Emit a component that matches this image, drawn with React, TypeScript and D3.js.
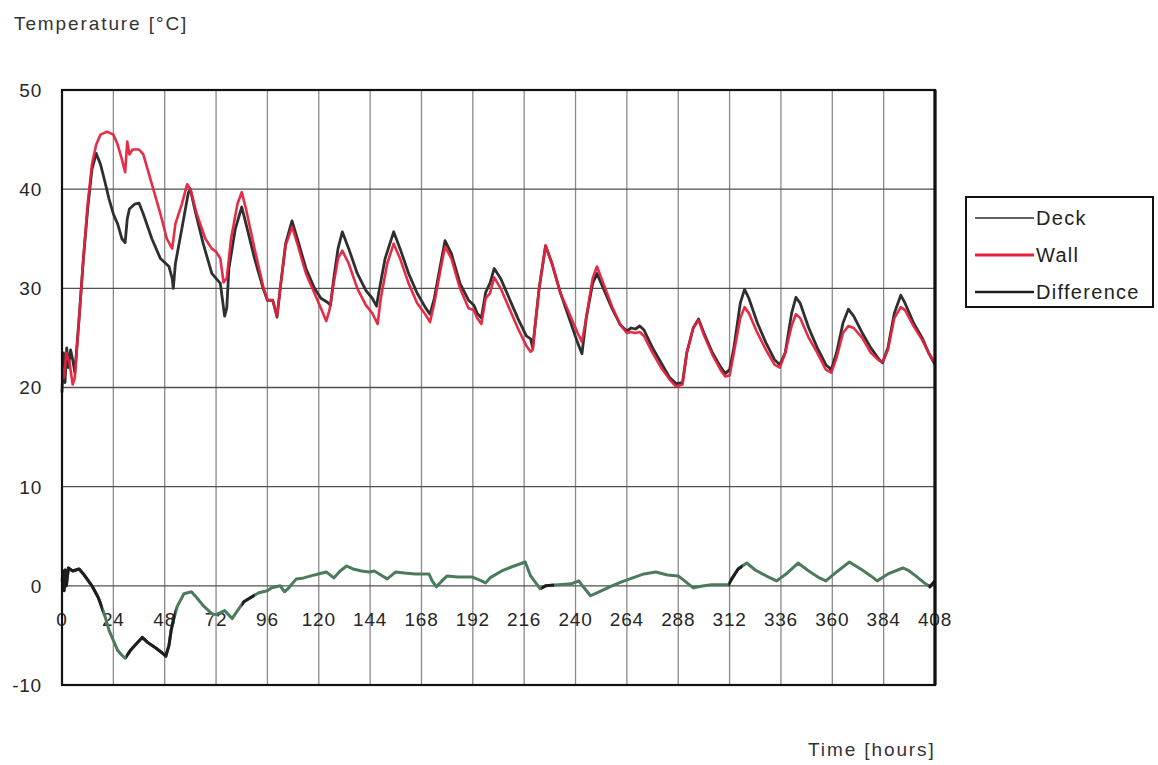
import React from "react";
import * as d3 from "d3";

// Hours since start, deck surface temperature
const deckTime = [0, 0.7, 1.4, 2.2, 3, 4, 5, 6, 8, 10, 12, 14, 16, 18, 20, 22, 24, 26, 28, 29.5, 30.5, 31.5, 34, 36, 38, 42, 46, 50, 51.5, 52, 53, 56, 59, 60, 62, 66, 70, 74, 76, 77, 78, 81, 84, 86, 90, 94, 96, 98.5, 100.5, 102, 104.5, 107.5, 110, 114, 118, 121, 124, 125.5, 127, 129, 131, 134, 138, 142, 145, 147, 148, 151, 155, 158, 162, 166, 170, 172, 174, 177, 179, 182, 186, 190, 192.5, 194, 196, 198, 200, 202, 205, 209, 213, 217, 219, 220, 221, 223, 226, 229, 233, 237, 241, 243, 245, 248, 250, 253, 257, 261, 264, 266, 268, 270, 272, 276, 280, 284, 287, 290, 292, 295, 297.5, 300, 304, 308, 310, 312, 314, 317, 319, 321, 325, 329, 333, 335.5, 338, 341, 343, 345, 349, 353, 357, 359.5, 362, 365, 367.5, 370, 374, 378, 382, 383.5, 386, 389, 392, 394, 398, 402, 405, 408];
const deckTemp = [19.5, 23.5, 20.5, 24, 22, 23.8, 22.8, 21.5, 27, 33, 38, 42, 43.6, 42.5, 40.8, 39, 37.5, 36.5, 35, 34.6, 37, 38, 38.5, 38.6, 37.5, 35, 33, 32.2, 31, 30, 32.5, 36, 39.6, 40, 38, 34.5, 31.5, 30.5, 27.2, 28, 32, 36, 38.2, 36.5, 33, 30, 28.8, 28.8, 27.1, 30, 34.5, 36.8, 35, 32, 30, 29, 28.6, 28.3, 31, 34, 35.7, 34, 31.5, 29.8, 29, 28.2, 29.5, 33, 35.7, 34, 31.5, 29.5, 28, 27.4, 29, 32.5, 34.8, 33.5, 30.5, 28.8, 28.3, 27.5, 27, 29.6, 30.5, 32, 31, 29, 27, 25.2, 24.9, 24, 26, 30, 34.3, 32.5, 29.5, 27, 24.5, 23.4, 27, 30.5, 31.5, 30, 28, 26.3, 25.7, 26, 25.9, 26.2, 25.8, 24, 22.5, 21, 20.4, 20.5, 23.5, 26, 26.9, 25.5, 23.5, 22, 21.4, 21.8, 24, 28.5, 29.9, 29, 26.5, 24.5, 22.8, 22.3, 23.5, 27.5, 29.1, 28.5, 26, 24, 22.3, 21.8, 23.5, 26.5, 27.9, 27.2, 25.5, 24, 22.8, 22.5, 24, 27.5, 29.3, 28.5, 26.5, 25, 23.5, 22.3];

// Hours since start, wall surface temperature
const wallTime = [0, 1, 2, 3.5, 5, 6, 8, 10, 12, 14, 16, 18, 21, 24, 26, 28, 29.5, 30.5, 31.5, 33, 36, 38, 42, 46, 49, 51.5, 53, 56, 58.5, 60, 63, 67, 70, 72, 74, 75.5, 77, 79, 82, 84, 86, 90, 94, 96, 98.5, 100.5, 102, 104.5, 107.5, 110, 114, 118, 121, 123.5, 125, 127, 129, 131, 134, 138, 142, 145, 147.5, 149, 152, 155, 158, 162, 166, 170, 172, 174, 177, 179, 182, 186, 190, 192.5, 194, 196, 198, 200, 202, 205, 209, 213, 217, 219, 220, 221, 223, 226, 229, 233, 237, 241, 243, 245, 248, 250, 253, 257, 261, 264, 266, 268, 270, 272, 276, 280, 284, 287, 290, 292, 295, 297.5, 300, 304, 308, 310, 312, 314, 317, 319, 321, 325, 329, 333, 335.5, 338, 341, 343, 345, 349, 353, 357, 359.5, 362, 365, 367.5, 370, 374, 378, 382, 383.5, 386, 389, 392, 394, 398, 402, 405, 408];
const wallTemp = [22, 21, 23.5, 22.5, 20.3, 21, 27, 33, 38.5, 42.5, 44.5, 45.5, 45.8, 45.5, 44.5, 43, 41.7, 44.8, 43.5, 44, 44, 43.5, 40.5, 37.5, 35, 34, 36.5, 38.5, 40.5, 40, 37.5, 35, 34, 33.7, 33, 30.6, 31, 35, 38.5, 39.7, 38, 34, 30.2, 28.8, 28.8, 27.2, 30, 34.3, 36.2, 34.5, 31.5, 29.5, 28, 26.7, 27.8, 30.5, 33, 33.8, 32.5, 30, 28.3, 27.5, 26.4, 29, 32.5, 34.5, 33, 30.5, 28.5, 27.3, 26.6, 28.5, 32, 34.2, 33, 30, 28, 27.8, 27, 26.4, 29, 29.5, 31.1, 30, 28, 26, 24.2, 23.6, 23.8, 26, 30, 34.3, 32.5, 29.5, 27.5, 25.5, 24.6, 27, 31, 32.2, 30.5, 28.2, 26.3, 25.5, 25.6, 25.5, 25.6, 25.2, 23.5, 22, 20.8, 20.1, 20.3, 23.5, 26, 26.8, 25.3, 23.3, 21.7, 21.1, 21.2, 23.5, 27, 28.1, 27.5, 25.5, 23.8, 22.3, 22, 23.5, 26.2, 27.4, 27, 25, 23.5, 21.8, 21.5, 23, 25.5, 26.2, 26, 25, 23.5, 22.7, 22.6, 23.8, 27, 28.1, 27.8, 26.2, 24.8, 23.5, 22.5];

// Hours since start, temperature difference
const diffTime = [0, 0.5, 1, 1.5, 2, 3, 5, 8, 10, 14, 17, 20, 22, 24, 26, 28, 29.5, 32, 35, 37.5, 40, 44, 47, 48.5, 50, 51, 52, 54, 57, 60.5, 63, 66, 70, 72, 76, 79.5, 82, 85, 88, 92, 96, 98, 100, 102, 104, 106, 109.5, 113, 118, 123.5, 127, 130, 133, 136, 140, 143.5, 146, 149, 152, 156, 160, 165, 171.5, 173, 175, 178, 180, 185, 191.5, 195, 198, 200, 205.5, 210, 216.5, 219, 223.5, 226, 232, 238, 241.5, 244, 247, 252, 257, 261.5, 268, 272, 277.5, 283, 288, 291, 295, 300, 303.5, 311.5, 313, 316, 320, 324, 330, 334, 339, 344, 349, 354, 357, 362, 368, 374, 378, 381, 386, 393, 396, 399, 403, 405.6, 408];
const diffTemp = [0.5, 1.5, -0.5, 1.6, 0, 1.8, 1.5, 1.7, 1.2, 0, -1.2, -3, -4.5, -5.5, -6.5, -7, -7.3, -6.5, -5.8, -5.2, -5.7, -6.3, -6.8, -7.1, -6, -4.5, -3.5, -2, -0.8, -0.6, -1.2, -2, -2.8, -2.9, -2.5, -3.3, -2.5, -1.6, -1.2, -0.7, -0.5, -0.2, -0.1, 0, -0.6, -0.2, 0.7, 0.8, 1.1, 1.4, 0.8, 1.5, 2, 1.7, 1.5, 1.4, 1.5, 1.1, 0.7, 1.4, 1.3, 1.2, 1.2, 0.5, -0.1, 0.6, 1, 0.9, 0.9, 0.6, 0.3, 0.8, 1.5, 1.9, 2.4, 1, -0.3, 0, 0.1, 0.2, 0.5, -0.2, -1, -0.5, 0, 0.4, 0.9, 1.2, 1.4, 1.1, 1, 0.5, -0.2, 0, 0.1, 0.1, 0.7, 1.7, 2.3, 1.6, 0.9, 0.5, 1.3, 2.3, 1.5, 0.8, 0.5, 1.4, 2.4, 1.6, 1, 0.5, 1.2, 1.8, 1.5, 1, 0.3, -0.1, 0.5];

// Stretches of the difference trace that are printed in black rather than green
const diffDarkStart = [0, 30, 84, 224, 311.5, 405];
const diffDarkEnd = [19, 53, 90, 230, 318, 408];

const xTicks = [0, 24, 48, 72, 96, 120, 144, 168, 192, 216, 240, 264, 288, 312, 336, 360, 384, 408];
const yTicks = [-10, 0, 10, 20, 30, 40, 50];

const legendNames = ["Deck", "Wall", "Difference"];

const W = 1158;
const H = 765;
const M = { left: 62, right: 935, top: 90, bottom: 685 };

const FONT = "'Liberation Sans', Arial, Helvetica, sans-serif";
const DECK = "#2f2f2f";
const WALL = "#e4223e";
const DIFF = "#4a7c5c";
const DIFF_DARK = "#1e1e1e";

type Pt = [number, number];

export default function App() {
  const x = d3.scaleLinear().domain([0, 408]).range([M.left, M.right]);
  const y = d3.scaleLinear().domain([-10, 50]).range([M.bottom, M.top]);

  const line = d3
    .line<Pt>()
    .x((d) => x(d[0]))
    .y((d) => y(d[1]))
    .curve(d3.curveLinear);

  const deck: Pt[] = deckTime.map((t, i) => [t, deckTemp[i]]);
  const wall: Pt[] = wallTime.map((t, i) => [t, wallTemp[i]]);
  const diff: Pt[] = diffTime.map((t, i) => [t, diffTemp[i]]);

  const legendColors = [DECK, WALL, DIFF_DARK];
  const legendWidths = [1.6, 3, 2.6];

  return (
    <svg
      width={W}
      height={H}
      viewBox={`0 0 ${W} ${H}`}
      style={{ position: "absolute", left: 0, top: 0, background: "#fff" }}
      fontFamily={FONT}
    >
      <defs>
        {diffDarkStart.map((s, i) => (
          <clipPath id={`dark-${i}`} key={i}>
            <rect x={x(s)} y={M.top} width={x(diffDarkEnd[i]) - x(s)} height={M.bottom - M.top} />
          </clipPath>
        ))}
      </defs>

      {/* vertical grid */}
      {xTicks.slice(1, -1).map((t) => (
        <line key={`vx${t}`} x1={x(t)} x2={x(t)} y1={M.top} y2={M.bottom} stroke="#8a8a8a" strokeWidth={1.3} />
      ))}
      {/* horizontal grid */}
      {yTicks.slice(1, -1).map((v) => (
        <line key={`hy${v}`} x1={M.left} x2={M.right} y1={y(v)} y2={y(v)} stroke="#505050" strokeWidth={1.4} />
      ))}

      {/* y tick labels */}
      {yTicks.map((v) => (
        <text key={`yl${v}`} x={42} y={y(v)} dy="0.36em" textAnchor="end" fontSize={19} letterSpacing={0.8} fill="#262626">
          {v}
        </text>
      ))}

      {/* x tick labels, printed inside the plot just under the zero line */}
      {xTicks.map((t) => (
        <text key={`xl${t}`} x={x(t)} y={y(-3.4)} dy="0.36em" textAnchor="middle" fontSize={19} letterSpacing={0.8} fill="#262626">
          {t}
        </text>
      ))}

      {/* series */}
      <path d={line(diff) || ""} fill="none" stroke={DIFF} strokeWidth={3} strokeLinejoin="round" />
      {diffDarkStart.map((_, i) => (
        <path
          key={`dd${i}`}
          d={line(diff) || ""}
          fill="none"
          stroke={DIFF_DARK}
          strokeWidth={3}
          strokeLinejoin="round"
          clipPath={`url(#dark-${i})`}
        />
      ))}
      <path d={line(deck) || ""} fill="none" stroke={DECK} strokeWidth={2.8} strokeLinejoin="round" />
      <path d={line(wall) || ""} fill="none" stroke={WALL} strokeWidth={2.6} strokeLinejoin="round" opacity={0.95} />

      {/* plot frame */}
      <rect x={M.left} y={M.top} width={M.right - M.left} height={M.bottom - M.top} fill="none" stroke="#111" strokeWidth={2.2} />
      <line x1={M.right} x2={M.right} y1={M.top} y2={M.bottom} stroke="#111" strokeWidth={3.2} />

      {/* axis titles */}
      <text x={14} y={30} fontSize={19} fill="#333" letterSpacing={1.9}>
        Temperature [°C]
      </text>
      <text x={808} y={756} fontSize={19} fill="#333" letterSpacing={1.9}>
        Time [hours]
      </text>

      {/* legend */}
      <rect x={966} y={197} width={187} height={110} fill="#fff" stroke="#111" strokeWidth={2} />
      {legendNames.map((name, i) => {
        const ly = [218, 255, 292][i];
        return (
          <g key={name}>
            <line x1={975} x2={1034} y1={ly} y2={ly} stroke={legendColors[i]} strokeWidth={legendWidths[i]} />
            <text x={1036} y={ly} dy="0.36em" fontSize={20} letterSpacing={1.3} fill="#222">
              {name}
            </text>
          </g>
        );
      })}
    </svg>
  );
}
